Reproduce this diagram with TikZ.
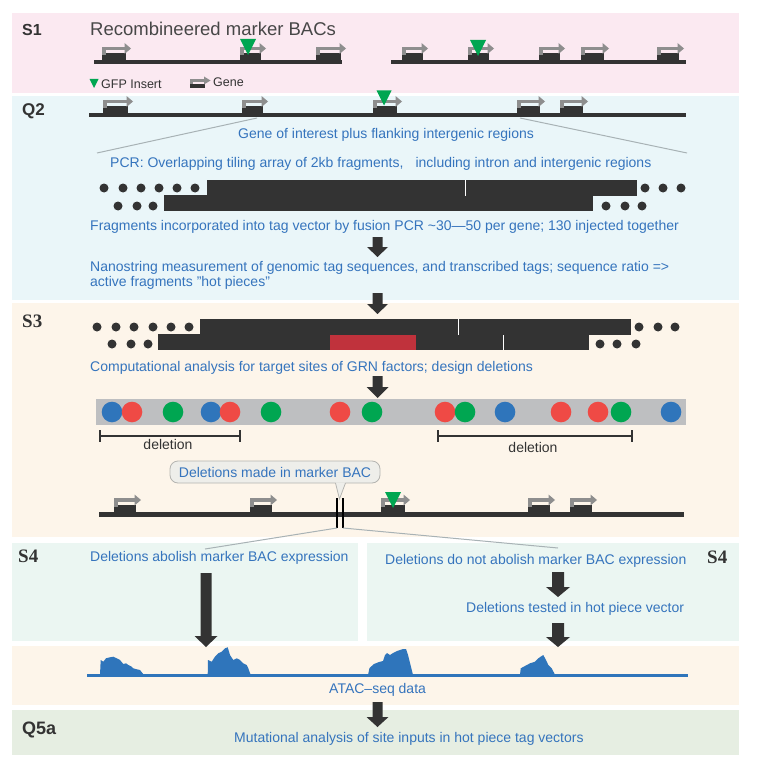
\documentclass[tikz,border=0pt]{standalone}
\usepackage{fontspec}
\setmainfont{Liberation Sans}
\newfontfamily\seriffam{Liberation Serif}
\definecolor{pSa}{HTML}{FBE9F1}
\definecolor{pQb}{HTML}{EAF6F9}
\definecolor{pSc}{HTML}{FDF5EA}
\definecolor{pSd}{HTML}{EBF6F2}
\definecolor{pQe}{HTML}{E6EEE2}
\definecolor{txtblue}{HTML}{3574BD}
\definecolor{dk}{HTML}{333333}
\definecolor{geneg}{HTML}{8E8E8E}
\definecolor{gfpg}{HTML}{00A651}
\definecolor{bandg}{HTML}{BEBFC1}
\definecolor{cred}{HTML}{EF4A45}
\definecolor{cblue}{HTML}{2F75BB}
\definecolor{cgreen}{HTML}{00A651}
\definecolor{fragred}{HTML}{C0323C}
\definecolor{fang}{HTML}{A8B2B5}
\definecolor{callf}{HTML}{EEEEEA}
\definecolor{calld}{HTML}{B4B4B0}
\newcommand\genemk[3]{%
  \fill[dk] (#1,#2-6.5) rectangle (#1+#3,#2);
  \draw[geneg,line width=3.2pt] (#1+2,#2-5) -- (#1+2,#2-11.5) -- (#1+#3,#2-11.5);
  \fill[geneg] (#1+#3-1.5,#2-17) -- (#1+#3+5,#2-11.5) -- (#1+#3-1.5,#2-6) -- cycle;}
\newcommand\gfpmk[3]{% center x, tip y, width
  \fill[gfpg] (#1-#3/2,#2-#3) -- (#1+#3/2,#2-#3) -- (#1,#2) -- cycle;}
\newcommand\barrow[6]{% x, top, tip, shaft half, head half, head length
  \fill[dk] (#1-#4,#2) -- (#1+#4,#2) -- (#1+#4,#3-#6) -- (#1+#5,#3-#6) -- (#1,#3)
    -- (#1-#5,#3-#6) -- (#1-#4,#3-#6) -- cycle;}
\tikzset{
  bt/.style={text=txtblue, font=\fontsize{14}{16}\selectfont, inner sep=0pt, anchor=base west},
  dt/.style={text=dk, font=\fontsize{14}{16}\selectfont, inner sep=0pt, anchor=base},
  lab/.style={text=dk, font=\bfseries\fontsize{17}{19}\selectfont, inner sep=0pt, anchor=base west},
  slab/.style={text=dk, font=\seriffam\bfseries\fontsize{19}{21}\selectfont, inner sep=0pt, anchor=base west},
  small/.style={text=dk, font=\fontsize{12.5}{14}\selectfont, inner sep=0pt, anchor=base west},
  fan/.style={fang, line width=1pt},
}
\begin{document}
\begin{tikzpicture}[x=1pt,y=-1pt]
\useasboundingbox (0,0) rectangle (757,770);
\fill[white] (0,0) rectangle (757,770);
% panels
\fill[pSa] (12,13) rectangle (739,93);
\fill[pQb] (12,96) rectangle (739,300);
\fill[pSc] (12,303) rectangle (739,537);
\fill[pSd] (12,543) rectangle (358,641);
\fill[pSd] (367,543) rectangle (739,641);
\fill[pSc] (12,646) rectangle (739,705);
\fill[pQe] (12,710) rectangle (739,755);

% ---------- S1 ----------
\node[lab, font=\bfseries\fontsize{16}{18}\selectfont] (s1) at (22,35.5) {S1};
\node[inner sep=0pt, anchor=base west, text=dk!90, font=\fontsize{18.5}{20}\selectfont] (title) at (90,35.5) {Recombineered marker BACs};
\fill[dk] (94,60) rectangle (342,64.3);
\genemk{102}{60}{24}
\genemk{240}{60}{21}
\genemk{316}{60}{25}
\gfpmk{248}{55}{16}
\fill[dk] (391,60) rectangle (686,64.3);
\genemk{402}{60}{21}
\genemk{468}{60}{21}
\genemk{539}{60}{21}
\genemk{581}{60}{23}
\genemk{657}{60}{22}
\gfpmk{478}{56}{16}
% legend
\gfpmk{94}{88}{9}
\node[small] (lg1) at (101,89) {GFP Insert};
\fill[dk] (190,84) rectangle (205,88.5);
\draw[geneg,line width=2.4pt] (191.5,84) -- (191.5,80.5) -- (205,80.5);
\fill[geneg] (204,76.5) -- (210.5,80.5) -- (204,84.5) -- cycle;
\node[small] (lg2) at (213,87) {Gene};

% ---------- Q2 ----------
\node[lab] (q2) at (22,116) {Q2};
\fill[dk] (89,113) rectangle (686,117);
\genemk{103}{113}{25}
\genemk{242}{113}{21}
\genemk{373}{113}{24}
\genemk{517}{113}{23}
\genemk{560}{113}{23}
\gfpmk{384}{105.5}{15}
\coordinate (fl1) at (257,118);
\coordinate (fl2) at (97,153);
\coordinate (fr1) at (520,118);
\coordinate (fr2) at (687,153);
\draw[fan] (fl1) -- (fl2);
\draw[fan] (fr1) -- (fr2);
\node[bt] (t1) at (238,139) {Gene of interest plus flanking intergenic regions};
\node[bt] (t2) at (110,167.3) {PCR: Overlapping tiling array of 2kb fragments,\hspace{12pt}including intron and intergenic regions};
% fragments
\fill[dk] (207,180) rectangle (637,195.5);
\fill[dk] (164,195) rectangle (593,211);
\fill[white] (464.5,180) rectangle (465.8,196);
\foreach \xx in {104,123,141,159,177,195} \fill[dk] (\xx,188) circle (4.5);
\foreach \xx in {118,137,153} \fill[dk] (\xx,206) circle (4.5);
\foreach \xx in {645,663,681} \fill[dk] (\xx,188) circle (4.5);
\foreach \xx in {606,625,642} \fill[dk] (\xx,206) circle (4.5);
\node[bt] (t3) at (90,230.7) {Fragments incorporated into tag vector by fusion PCR \textasciitilde 30—50 per gene; 130 injected together};
\barrow{377.5}{237}{257}{5}{10.5}{10}
\node[bt] (t4) at (90,271) {Nanostring measurement of genomic tag sequences, and transcribed tags; sequence ratio =>};
\node[bt] (t5) at (90,286.7) {active fragments "hot pieces"};
\barrow{377.5}{293}{314}{5}{10.5}{10}

% ---------- S3 ----------
\node[slab] (s3) at (22,327) {S3};
\fill[dk] (200,319) rectangle (631,334.5);
\fill[dk] (158,334) rectangle (589,350);
\fill[fragred] (330,335) rectangle (416,350);
\fill[white] (457.5,319) rectangle (458.8,334.5);
\fill[white] (502.5,334.5) rectangle (503.8,350);
\foreach \xx in {97,116,134,153,171,189} \fill[dk] (\xx,327) circle (4.5);
\foreach \xx in {112,131,148} \fill[dk] (\xx,344) circle (4.5);
\foreach \xx in {639,658,675} \fill[dk] (\xx,327) circle (4.5);
\foreach \xx in {600,617,636} \fill[dk] (\xx,344) circle (4.5);
\node[bt] (t6) at (90,371) {Computational analysis for target sites of GRN factors; design deletions};
\barrow{377.5}{376}{398}{5}{11}{11}
% site band
\fill[bandg] (96,399) rectangle (686,425);
\foreach \xx/\cc in {112/cblue,132/cred,173/cgreen,211/cblue,230/cred,271/cgreen,340/cred,372/cgreen,445/cred,465/cgreen,505/cblue,561/cred,598/cred,621/cgreen,671/cblue}
  \fill[\cc] (\xx,412) circle (10.3);
% deletion brackets
\draw[dk,line width=1.2pt] (100,430) -- (100,442) (100,436) -- (240,436) (240,430) -- (240,442);
\draw[dk,line width=1.2pt] (438,430) -- (438,442) (438,436) -- (632,436) (632,430) -- (632,442);
\node[dt] (d1) at (168,449) {deletion};
\node[dt] (d2) at (533,452) {deletion};
% genomic line S3
\fill[dk] (99,511.5) rectangle (684,517);
\genemk{114}{511.5}{22}
\genemk{250}{511.5}{22}
\genemk{381}{511.5}{24}
\genemk{528}{511.5}{22}
\genemk{570}{511.5}{22}
\gfpmk{393}{508}{16}
\draw[black,line width=1.5pt] (337,498) -- (337,528);
\draw[black,line width=1.5pt] (343,498) -- (343,528);
% callout
\node[draw=calld, fill=callf, line width=0.8pt, rounded corners=8pt, minimum width=210pt, minimum height=22pt, inner sep=0pt, text=txtblue, font=\fontsize{14}{16}\selectfont] (cb) at (275,472) {Deletions made in marker BAC};
\fill[callf] (335.5,482.4) -- (339.5,499) -- (345.5,482.4) -- cycle;
\draw[calld,line width=0.8pt] (335.5,483) -- (339.5,499) -- (345.5,483);
% fan to S4
\coordinate (gl1) at (337,528);
\coordinate (gl2) at (205,549);
\coordinate (gr1) at (343,528);
\coordinate (gr2) at (558,548);
\draw[fan] (gl1) -- (gl2);
\draw[fan] (gr1) -- (gr2);

% ---------- S4 ----------
\node[slab] (s4a) at (18,562.7) {S4};
\node[slab] (s4b) at (707,563) {S4};
\node[bt] (t7) at (90,561.7) {Deletions abolish marker BAC expression};
\node[bt] (t8) at (385,564) {Deletions do not abolish marker BAC expression};
\node[bt] (t9) at (466,612.7) {Deletions tested in hot piece vector};
\barrow{206}{573}{647}{5.5}{11.5}{11}
\barrow{558}{572}{597}{6}{12}{10}
\barrow{558}{623}{647}{6}{12}{10}

% ---------- ATAC ----------
\fill[cblue] (87,673.5) rectangle (688,676.5);
\fill[cblue] (100,675) -- (100.7,660) -- (103.3,661.7) -- (106,658.3) -- (110,657.3) -- (113.3,656.7) -- (116.7,658.3) -- (120,660) -- (123.3,664) -- (126,663.3) -- (128.3,665) -- (131.7,666.7) -- (133.3,668.3) -- (136.7,669.3) -- (140,670) -- (144,675) -- cycle;
\fill[cblue] (207.7,675) -- (208,660) -- (211.7,661.7) -- (215,656.7) -- (218.3,653.3) -- (221.7,651.7) -- (225,648.3) -- (227.7,647.3) -- (230,655) -- (233.3,660) -- (236.7,658.3) -- (240,660) -- (243.3,663.3) -- (246.7,665) -- (248.3,668.3) -- (250.7,675) -- cycle;
\fill[cblue] (368,675) -- (369.5,668) -- (374,664) -- (379,662) -- (383,661) -- (385,655) -- (387,653) -- (390,655) -- (393,653) -- (397,651) -- (400,650) -- (403,649) -- (406,649) -- (408,655) -- (411,667) -- (413,675) -- cycle;
\fill[cblue] (520,675) -- (520.7,668.3) -- (525,666) -- (530,663.3) -- (535,661.7) -- (538.3,658.3) -- (541.7,656) -- (543.3,655) -- (546,660) -- (548.3,665) -- (551.7,668.3) -- (554.3,673.3) -- (555,675) -- cycle;
\node[bt] (t10) at (329,693) {ATAC–seq data};
\barrow{377.5}{702}{727}{5}{11}{10}

% ---------- Q5a ----------
\node[lab, font=\bfseries\fontsize{18}{20}\selectfont] (q5) at (22,734) {Q5a};
\node[bt] (t11) at (234,742) {Mutational analysis of site inputs in hot piece tag vectors};
\end{tikzpicture}
\end{document}
